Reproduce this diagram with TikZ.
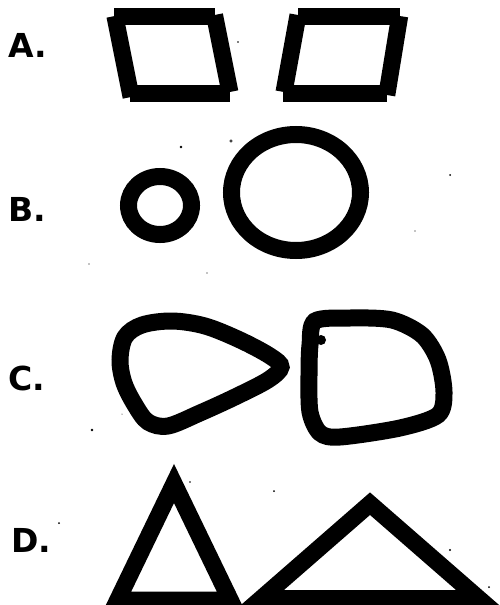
\documentclass[tikz,border=0pt]{standalone}
\usepackage{fontspec}
\setmainfont{DejaVu Sans}
\begin{document}
\begin{tikzpicture}[x=1pt,y=-1pt,
  thick17/.style={line width=17pt,line cap=butt},
  shapeline/.style={line width=17pt,line join=miter},
  lbl/.style={anchor=west,inner sep=0pt,font=\fontsize{33}{33}\selectfont\bfseries},
  speck/.style={fill=black}]
\useasboundingbox (0,0) rectangle (499,605);
\clip (0,0) rectangle (499,605);
% labels
\node[lbl] (la) at (8,45) {A.};
\node[lbl] (lb) at (8,209) {B.};
\node[lbl] (lc) at (8,378) {C.};
\node[lbl] (ld) at (11,540) {D.};
% A left parallelogram
\draw[thick17] (114,16.5) -- (215,16.5);
\draw[thick17] (130,93.5) -- (230,93.5);
\draw[thick17] (114.9,16) -- (131.1,97);
\draw[thick17] (214.5,15) -- (229.9,92);
% A right parallelogram
\draw[thick17] (298,16.5) -- (400,16.5);
\draw[thick17] (283,93.5) -- (387,93.5);
\draw[thick17] (298,15) -- (284,92);
\draw[thick17] (399.7,16) -- (386.8,95);
% B circles
\draw[line width=17pt] (160,205.5) ellipse [x radius=31.5, y radius=29];
\draw[line width=17pt] (296,192.5) ellipse [x radius=64.5, y radius=58];
% C shapes
\draw[shapeline] plot[smooth cycle, tension=0.55] coordinates {(120,360) (125,337) (142,325) (172,321) (205,326) (240,340) (270,356) (281,367) (268,380) (235,397) (200,413) (168,426) (148,422) (135,405) (124,383)};
\draw[shapeline] plot[smooth cycle, tension=0.5] coordinates {(310,345) (315,321) (350,318) (392,320) (422,335) (438,360) (444,392) (438,415) (400,428) (340,437) (320,433) (310,412) (309,375)};
\fill (321,340) circle (5);
% D triangles
\draw[shapeline] (174,483.5) -- (230.3,600) -- (117.7,600) -- cycle;
\draw[shapeline] (370,503.7) -- (478.7,598.5) -- (261.3,598.5) -- cycle;
% specks
\fill[speck] (238,42) circle (0.8);
\fill[speck] (181,147) circle (1.3);
\draw[line width=0.6pt] (231,141) circle (1.3);
\fill[speck] (450,175) circle (1);
\fill[speck] (415,231) circle (0.6);
\fill[speck] (89,264) circle (0.7);
\fill[speck] (207,273) circle (0.7);
\fill[speck] (122,414) circle (0.5);
\fill[speck] (92,430) circle (1.3);
\fill[speck] (190,482) circle (0.8);
\fill[speck] (274,491) circle (1);
\fill[speck] (59,523) circle (1);
\fill[speck] (450,550) circle (1.2);
\fill[speck] (489,587) circle (1);
\end{tikzpicture}
\end{document}
